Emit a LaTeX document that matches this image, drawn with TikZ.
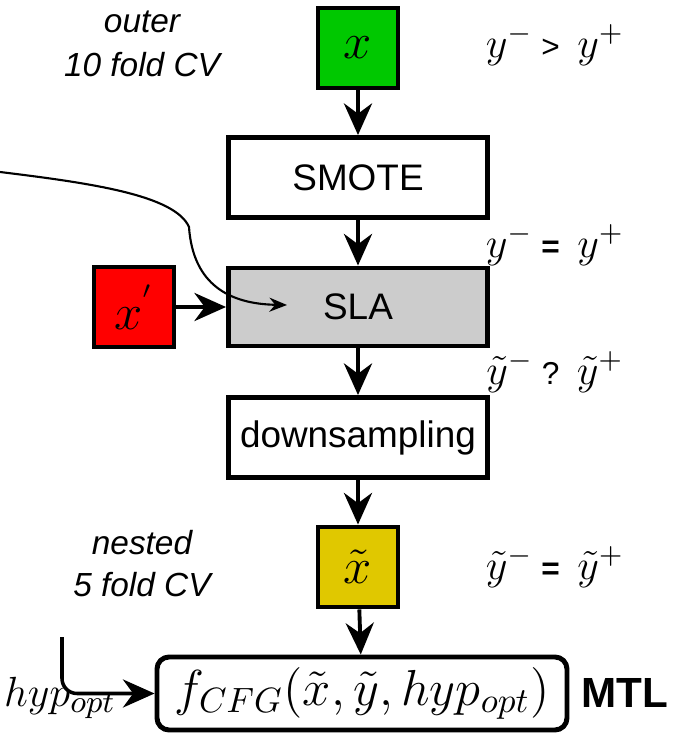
\documentclass[tikz,border=0pt]{standalone}
\usepackage{amsmath, amssymb}
\usepackage{fontspec}
\setsansfont{Liberation Sans}
\usepackage{xcolor}
\usepackage{tikz}
\usetikzlibrary{arrows.meta, positioning}

\definecolor{boxgreen}{RGB}{0,200,0}
\definecolor{boxred}{RGB}{255,0,0}
\definecolor{boxgold}{RGB}{224,200,0}
\definecolor{boxgray}{RGB}{204,204,204}

\newcommand{\relsign}[1]{\hspace{2.5pt}{\sffamily\fontsize{9}{10}\selectfont #1}\hspace{5pt}}

\begin{document}
\begin{tikzpicture}[>={Stealth[length=9pt,width=8pt]},
    box/.style={draw, line width=1.4pt, inner sep=0pt, align=center,
        font=\sffamily\fontsize{10.5}{12}\selectfont},
    databox/.style={box, minimum width=0.8cm, minimum height=0.8cm,
        font=\fontsize{14}{16}\selectfont},
    stepbox/.style={box, minimum width=2.59cm, minimum height=0.8cm},
    flow/.style={->, line width=1.1pt},
    ratio/.style={font=\fontsize{12}{14}\selectfont},
    note/.style={font=\sffamily\itshape\fontsize{9.5}{11}\selectfont}]
            \useasboundingbox (0,0) rectangle (6.76,7.35);

            % Các hộp dữ liệu và các bước
            \node[databox, fill=boxgreen] (x) at (3.58, 6.87) {$x$};
            \node[stepbox] (smote) at (3.58, 5.575) {SMOTE};
            \node[stepbox, fill=boxgray, minimum height=0.78cm] (sla) at (3.58, 4.28) {SLA};
            \node[databox, fill=boxred] (xp) at (1.34, 4.28) {$x^{'}$};
            \node[stepbox] (down) at (3.58, 2.975) {downsampling};
            \node[databox, fill=boxgold] (xt) at (3.58, 1.68) {$\tilde{x}$};
            \node[box, rounded corners=0.12cm, minimum width=4.10cm, minimum height=0.73cm,
                font=\fontsize{14}{16}\selectfont] (fcfg) at (3.62, 0.415)
                {$f_{CFG}(\tilde{x},\tilde{y},hyp_{opt})$};
            \node[font=\sffamily\bfseries\fontsize{12}{14}\selectfont] (mtl) at (6.25, 0.42) {MTL};
            \node[font=\fontsize{13}{15}\selectfont] (hyp) at (0.60, 0.37) {$hyp_{opt}$};

            % Các nhãn bên trái
            \node[note] (outer) at (1.42, 7.13) {outer};
            \node[note] (outercv) at (1.42, 6.70) {10 fold CV};
            \node[note] (nested) at (1.42, 1.92) {nested};
            \node[note] (nestedcv) at (1.42, 1.50) {5 fold CV};

            % Các nhãn tỉ lệ lớp bên phải
            \node[ratio] (r1) at (5.55, 6.90) {$y^{-}$\relsign{>}$y^{+}$};
            \node[ratio] (r2) at (5.55, 4.90) {$y^{-}$\relsign{\bfseries =}$y^{+}$};
            \node[ratio] (r3) at (5.55, 3.63) {$\tilde{y}^{-}$\relsign{?}$\tilde{y}^{+}$};
            \node[ratio] (r4) at (5.55, 1.68) {$\tilde{y}^{-}$\relsign{\bfseries =}$\tilde{y}^{+}$};

            % Các mũi tên chính
            \draw[flow] (x) -- (smote);
            \draw[flow] (smote) -- (sla);
            \draw[flow] (xp) -- (sla);
            \draw[flow] (sla) -- (down);
            \draw[flow] (down) -- (xt);
            \draw[flow] (xt) -- (fcfg);

            % Đường cong đi vào SLA
            \coordinate (cstart) at (0, 5.63);
            \coordinate (cend) at (2.87, 4.30);
            \draw[line width=0.6pt, -{Stealth[length=5pt,width=4pt]}] (cstart)
                .. controls (0.9, 5.52) and (1.75, 5.40) .. (1.89, 5.08)
                .. controls (1.93, 4.50) and (2.30, 4.31) .. (cend);

            % Mũi tên siêu tham số
            \coordinate (hstart) at (0.62, 0.98);
            \draw[flow, line width=1pt, rounded corners=0.15cm] (hstart) |- (fcfg.west);
        \end{tikzpicture}
\end{document}
